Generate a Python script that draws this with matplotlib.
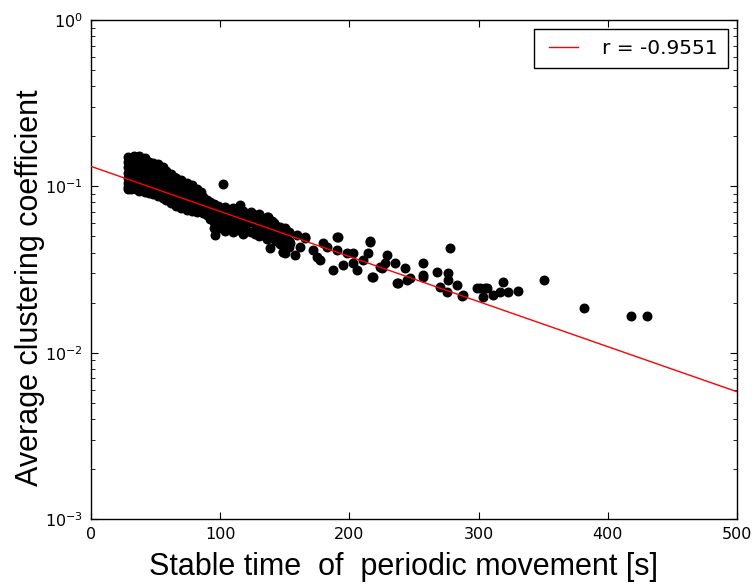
import matplotlib
matplotlib.use("Agg")
import matplotlib.pyplot as plt
from matplotlib.legend_handler import HandlerLine2D
import numpy as np

# ---- data ----
stable_time_dense = [
    29, 29, 29, 29, 29, 29, 29, 29,
    31, 31, 31, 31,
    33, 33, 33, 33,
    35, 35, 35, 35,
    37, 37, 37, 37, 37,
    40, 40, 40, 40,
    42, 42, 42, 42,
    45, 45, 45, 45, 45,
    48, 48, 48, 48,
    50, 50, 50,
    52, 52, 52, 52,
    54, 54, 54,
    56, 56, 56,
    58, 58, 58, 58,
    60, 60, 60,
    62, 62, 62, 62,
    64, 64, 64,
    66, 66, 66, 66,
    68, 68, 68,
    70, 70, 70, 70,
    72, 72, 72,
    74, 74, 74, 74,
    76, 76, 76,
    78, 78, 78, 78,
    80, 80, 80,
    82, 82, 82, 82,
    85, 85, 85,
    87, 87, 87,
    90, 90, 90,
    92, 92, 92,
    95, 95, 95, 95,
    96,
    98, 98, 98,
    100, 100, 100,
    102,
    104, 104, 104, 104,
    107, 107, 107,
    110, 110, 110, 110,
    113, 113, 113,
    115, 115, 115,
    118, 118, 118, 118,
    121, 121, 121,
    124, 124, 124,
    127, 127, 127,
    130, 130, 130, 130,
    133, 133, 133,
    136, 136, 136, 136,
    137, 138.5,
    140, 140, 140,
    142,
    143, 143, 143,
    146, 146, 146,
    148.6,
    150, 150, 150, 150,
    153, 153, 153,
]
clustering_dense = [
    0.150, 0.140, 0.130, 0.121, 0.113, 0.105, 0.099, 0.096,
    0.145, 0.125, 0.108, 0.097,
    0.153, 0.135, 0.118, 0.103,
    0.147, 0.127, 0.110, 0.097,
    0.152, 0.138, 0.122, 0.106, 0.094,
    0.144, 0.130, 0.114, 0.100,
    0.148, 0.120, 0.108, 0.093,
    0.141, 0.126, 0.111, 0.098, 0.091,
    0.138, 0.117, 0.104, 0.090,
    0.132, 0.122, 0.096,
    0.136, 0.112, 0.100, 0.088,
    0.128, 0.117, 0.093,
    0.131, 0.107, 0.085,
    0.124, 0.112, 0.097, 0.083,
    0.118, 0.102, 0.089,
    0.119, 0.108, 0.093, 0.079,
    0.114, 0.098, 0.085,
    0.112, 0.103, 0.089, 0.076,
    0.108, 0.094, 0.081,
    0.109, 0.098, 0.085, 0.074,
    0.104, 0.090, 0.078,
    0.105, 0.094, 0.082, 0.072,
    0.100, 0.087, 0.075,
    0.102, 0.091, 0.079, 0.071,
    0.095, 0.084, 0.073,
    0.097, 0.088, 0.076, 0.070,
    0.092, 0.081, 0.072,
    0.086, 0.076, 0.069,
    0.083, 0.074, 0.067,
    0.080, 0.071, 0.064,
    0.078, 0.069, 0.061, 0.056,
    0.051,
    0.076, 0.066, 0.059,
    0.073, 0.063, 0.056,
    0.104,
    0.075, 0.067, 0.060, 0.054,
    0.072, 0.064, 0.057,
    0.074, 0.066, 0.059, 0.053,
    0.070, 0.062, 0.055,
    0.077, 0.065, 0.058,
    0.071, 0.063, 0.055, 0.052,
    0.068, 0.060, 0.054,
    0.070, 0.062, 0.053,
    0.067, 0.059, 0.052,
    0.068, 0.061, 0.055, 0.050,
    0.064, 0.057, 0.051,
    0.065, 0.058, 0.052, 0.048,
    0.0654, 0.0425,
    0.062, 0.055, 0.049,
    0.060,
    0.058, 0.053, 0.047,
    0.057, 0.051, 0.045,
    0.0405,
    0.056, 0.049, 0.044, 0.040,
    0.053, 0.047, 0.043,
]

stable_time_tail = [
    151.7, 165.6, 190.4, 215.9, 229.1, 277.9, 257.0, 267.8, 276.3, 236.8,
    217.5, 187.3, 157.9, 148.6, 298.8, 287.2, 275.5, 257.0, 244.6, 177.2,
    202.8, 210.5, 223.7, 198.1, 182.7, 171.8, 161.8, 154.0,
    159.4, 165.6, 179.6, 191.2, 190.4, 202.8, 215.9, 214.4, 218.3, 195.0,
    205.9, 225.2, 174.9,
    235.3, 243.0, 237.6, 246.9, 257.0, 270.1, 276.3, 283.3, 287.9, 301.1,
    305.0, 303.4, 227.6,
    306.5, 311.1, 316.6, 318.9, 322.8, 330.5, 350.6, 381.6, 418.0, 430.3,
]
clustering_tail = [
    0.0524, 0.0496, 0.0496, 0.0469, 0.0386, 0.0426, 0.0346, 0.0305, 0.0301, 0.0262,
    0.0285, 0.0314, 0.0386, 0.0403, 0.0245, 0.0219, 0.0231, 0.0285, 0.0273, 0.0360,
    0.0346, 0.0360, 0.0327, 0.0397, 0.0432, 0.0414, 0.0432, 0.0456,
    0.0509, 0.0489, 0.0456, 0.0496, 0.0414, 0.0397, 0.0462, 0.0397, 0.0285, 0.0336,
    0.0314, 0.0323, 0.0376,
    0.0346, 0.0323, 0.0262, 0.0281, 0.0293, 0.0248, 0.0273, 0.0255, 0.0222, 0.0245,
    0.0245, 0.0216, 0.0346,
    0.0245, 0.0222, 0.0231, 0.0266, 0.0231, 0.0235, 0.0273, 0.0185, 0.0166, 0.0166,
]

# fitted line: log10(y) = fit_intercept + fit_slope * x
fit_intercept = -0.880
fit_slope = -0.00271
fit_label = "r = -0.9551"
x_range = [0, 500]

x_label = "Stable time  of  periodic movement [s]"
y_label = "Average clustering coefficient"

# ---- style ----
plt.rcParams.update({
    "font.family": "DejaVu Sans",
    "font.size": 11.5,
    "xtick.direction": "in",
    "ytick.direction": "in",
    "xtick.top": True,
    "ytick.right": True,
    "xtick.major.size": 5,
    "ytick.major.size": 5,
    "ytick.minor.size": 3,
    "xtick.major.pad": 6,
    "ytick.major.pad": 6,
    "axes.linewidth": 1.0,
})


class ShortLineHandler(HandlerLine2D):
    """Classic-style legend line: drawn shorter than the handle box."""
    def create_artists(self, legend, orig_handle, xdescent, ydescent,
                       width, height, fontsize, trans):
        artists = super().create_artists(legend, orig_handle, xdescent,
                                         ydescent, width, height, fontsize,
                                         trans)
        for a in artists:
            xd = np.asarray(a.get_xdata(), dtype=float)
            yd = np.asarray(a.get_ydata(), dtype=float)
            if xd.size >= 2 and yd.size >= 1:
                x0, x1 = xd.min(), xd.max()
                a.set_data([x0 + 0.12 * (x1 - x0), x1 - 0.19 * (x1 - x0)],
                           [yd[0], yd[0]])
        return artists


fig = plt.figure(figsize=(7.53, 5.87), dpi=100, facecolor="white")
ax = fig.add_axes([91 / 753, 68 / 587, 646 / 753, 499 / 587])

xs = np.array(stable_time_dense + stable_time_tail)
ys = np.array(clustering_dense + clustering_tail)
ax.scatter(xs, ys, s=38, c="black", edgecolors="black", linewidths=1, zorder=2)

xl = np.linspace(x_range[0], x_range[1], 200)
line, = ax.plot(xl, 10 ** (fit_intercept + fit_slope * xl), color="red",
                lw=1.0, label=fit_label, zorder=3)

ax.set_yscale("log")
ax.set_xlim(0, 500)
ax.set_ylim(1e-3, 1)
ax.set_xticks([0, 100, 200, 300, 400, 500])

ax.set_xlabel(x_label, family="Liberation Sans", fontsize=22)
ax.set_ylabel(y_label, family="Liberation Sans", fontsize=22)
ax.xaxis.set_label_coords(0.4845, -0.066)
ax.yaxis.set_label_coords(-0.071, 0.463)

leg = ax.legend(loc="upper right", fontsize=14.5, handlelength=2.1,
                handletextpad=0.8, borderpad=0.5,
                fancybox=False, framealpha=1, edgecolor="black",
                borderaxespad=0.45,
                handler_map={line: ShortLineHandler()})
leg.get_frame().set_linewidth(1.0)

fig.savefig("out.png", dpi=100, facecolor="white")
